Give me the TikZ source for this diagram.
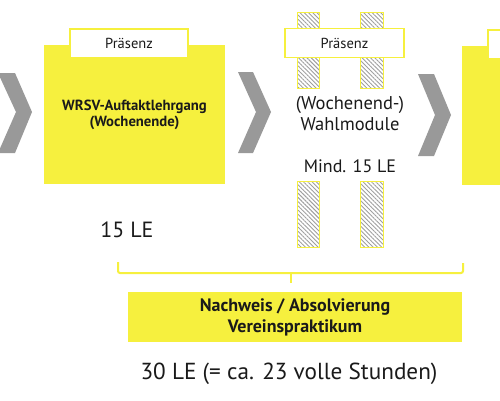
\documentclass[tikz,border=0pt]{standalone}
\usepackage{fontspec}
\setmainfont{PT Sans}
\usetikzlibrary{patterns.meta}
\definecolor{ylw}{HTML}{F6F03E}
\definecolor{chev}{HTML}{999999}
\definecolor{txt}{HTML}{1A1A1A}
\begin{document}
\begin{tikzpicture}[x=1pt,y=-1pt,
  ybox/.style={fill=ylw,draw=none,inner sep=0pt},
  tabbox/.style={fill=white,draw=ylw,line width=1.3pt,inner sep=0pt,minimum height=29pt,
    font=\fontsize{14.5}{16}\selectfont,text=txt},
  hatchbar/.style={pattern={Lines[angle=-45,distance=3pt,line width=0.9pt]},pattern color=gray!75,draw=ylw,line width=0.8pt},
  chevshape/.style={fill=chev,draw=none},
  bracel/.style={draw=ylw,line width=2pt,rounded corners=2pt},
  bigtxt/.style={font=\fontsize{23.2}{27}\selectfont,text=txt},
  midtxt/.style={font=\fontsize{18.5}{21}\selectfont,text=txt,align=center},
  boldtxt/.style={font=\fontsize{14.7}{16.5}\selectfont\bfseries,text=txt,align=center}
]
\useasboundingbox[fill=white] (0,0) rectangle (500,400);
% chevrons
\path[chevshape] (-2,73) -- (15,73) -- (32,112) -- (15,153) -- (-2,153) -- (16,112) -- cycle;
\path[chevshape] (238,72) -- (253,72) -- (271,112) -- (253,153) -- (238,153) -- (256,112) -- cycle;
\path[chevshape] (418,74) -- (434,74) -- (451,115) -- (434,156) -- (418,156) -- (435,115) -- cycle;
% hatched bars
\path[hatchbar] (297,12) rectangle (319,88);
\path[hatchbar] (360,12) rectangle (383,88);
\path[hatchbar] (297,181) rectangle (319,247);
\path[hatchbar] (360,181) rectangle (383,247);
% box 1
\node[ybox,minimum width=181pt,minimum height=139pt] (b1) at (134.5,114.5) {};
\node[tabbox,minimum width=118pt] (t1) at (129,43.5) {Präsenz};
\node[boldtxt] (b1txt) at (134.5,115) {WRSV-Auftaktlehrgang\\(Wochenende)};
% module 2
\node[tabbox,minimum width=119pt] (t2) at (344.5,43) {Präsenz};
\node[midtxt] (m2) at (350,114) {(Wochenend-)\\Wahlmodule};
\node[midtxt,font=\fontsize{18}{21}\selectfont] (m2le) at (350,166) {Mind. 15 LE};
% box 3
\node[ybox,minimum width=60pt,minimum height=139pt] (b3) at (492,115.5) {};
\node[tabbox,minimum width=40pt] (t3) at (508,44.5) {};
% texts
\node[bigtxt,font=\fontsize{22}{26}\selectfont] (le15) at (127,230) {15 LE};
% brace
\coordinate (brl) at (118,262);
\coordinate (brr) at (463,263);
\coordinate (brc) at (291,273);
\coordinate (brt) at (291,283);
\draw[bracel] (brl) -- (brl |- brc) -- (brr |- brc) -- (brr);
\draw[draw=ylw,line width=2pt] (brc) -- (brt);
% Nachweis box
\node[ybox,minimum width=334pt,minimum height=50pt,font=\fontsize{18}{21}\selectfont\bfseries,text=txt,align=center] (nw) at (295,317) {Nachweis / Absolvierung\\Vereinspraktikum};
\node[bigtxt] (le30) at (289,374) {30 LE (= ca. 23 volle Stunden)};
\end{tikzpicture}
\end{document}
